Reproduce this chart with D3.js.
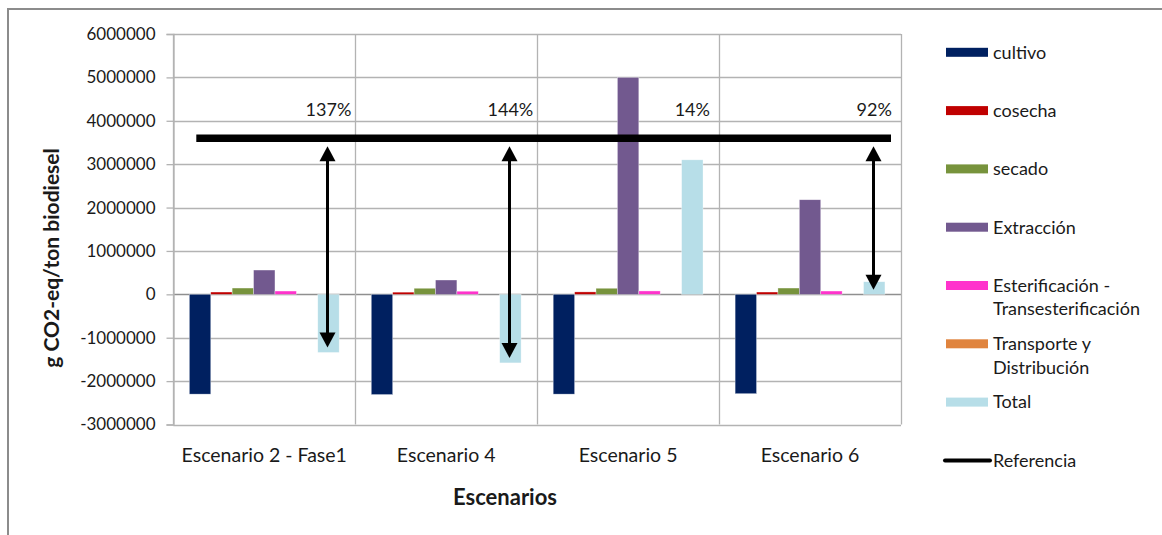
<!DOCTYPE html>
<html>
<head>
<meta charset="utf-8">
<script src="https://cdn.jsdelivr.net/npm/d3@7"></script>
<style>
  html, body { margin: 0; padding: 0; background: #fff; }
  svg { display: block; font-family: Lato, "Open Sans", sans-serif; }
</style>
</head>
<body>
<svg id="chart" width="1162" height="535"></svg>
<script>
// Emisiones por etapa (g CO2-eq / ton biodiesel) para cada escenario
const categories = ["Escenario 2 - Fase1", "Escenario 4", "Escenario 5", "Escenario 6"];
const seriesNames = ["cultivo", "cosecha", "secado", "Extracción",
  "Esterificación - Transesterificación", "Transporte y Distribución", "Total"];
const cultivo        = [-2300000, -2310000, -2300000, -2290000];
const cosecha        = [53000, 50000, 56000, 53000];
const secado         = [145000, 140000, 140000, 145000];
const extraccion     = [560000, 330000, 5000000, 2180000];
const esterificacion = [76000, 72000, 78000, 76000];
const transporte     = [0, 0, 0, 0];
const total          = [-1340000, -1580000, 3100000, 290000];
const referencia     = 3600000;
const arrowShown     = [true, true, false, true];
const yTicks = [-3000000, -2000000, -1000000, 0, 1000000, 2000000, 3000000, 4000000, 5000000, 6000000];
const legendLines = [["cultivo"], ["cosecha"], ["secado"], ["Extracción"],
  ["Esterificación -", "Transesterificación"], ["Transporte y", "Distribución"], ["Total"]];

const seriesValues = [cultivo, cosecha, secado, extraccion, esterificacion, transporte, total];
const colors = ["#002060", "#c00000", "#77933c", "#72598f", "#ff33cc", "#e0843e", "#b7dee8"];

const svg = d3.select("#chart");

// outer frame of the chart object
svg.append("rect").attr("x", 8).attr("y", 9).attr("width", 1170).attr("height", 540)
  .attr("fill", "#fff").attr("stroke", "#8c8c8c").attr("stroke-width", 2);

const plot = { left: 173.3, right: 901, top: 34, bottom: 424.5 };

const x0 = d3.scaleBand().domain(categories).range([plot.left, plot.right]).padding(0);
const x1 = d3.scaleBand().domain(seriesNames).range([0, x0.bandwidth()])
  .paddingInner(0).paddingOuter(0.75);
const y = d3.scaleLinear().domain([-3000000, 6000000]).range([plot.bottom, plot.top]);

// horizontal gridlines
svg.append("g").selectAll("line").data(yTicks).join("line")
  .attr("x1", plot.left).attr("x2", plot.right)
  .attr("y1", d => Math.round(y(d)) + 0.5).attr("y2", d => Math.round(y(d)) + 0.5)
  .attr("stroke", d => d === 0 ? "#8f8f8f" : "#b3b3b3").attr("stroke-width", 1.3);

// vertical gridlines at category boundaries
const bounds = categories.map(c => x0(c)).concat([plot.right]);
svg.append("g").selectAll("line").data(bounds).join("line")
  .attr("x1", d => Math.round(d) + 0.5).attr("x2", d => Math.round(d) + 0.5)
  .attr("y1", plot.top).attr("y2", plot.bottom)
  .attr("stroke", "#b3b3b3").attr("stroke-width", 1.3);

// value axis with outward ticks
const yAxis = d3.axisLeft(y).tickValues(yTicks).tickSize(7).tickPadding(11)
  .tickFormat(d => String(d));
const gy = svg.append("g").attr("transform", `translate(${Math.round(plot.left) + 0.5},0)`).call(yAxis);
gy.select(".domain").attr("stroke", "#b3b3b3").attr("stroke-width", 1.3);
gy.selectAll(".tick line").attr("stroke", "#b3b3b3").attr("stroke-width", 1.3);
gy.selectAll(".tick text").attr("font-family", "Lato, sans-serif").attr("font-size", 17)
  .attr("fill", "#1a1a1a");

// bars
const barData = [];
categories.forEach((c, i) => {
  seriesNames.forEach((s, j) => {
    barData.push({ cat: c, series: s, value: seriesValues[j][i], color: colors[j] });
  });
});
svg.append("g").selectAll("rect").data(barData).join("rect")
  .attr("x", d => x0(d.cat) + x1(d.series))
  .attr("width", x1.bandwidth())
  .attr("y", d => y(Math.max(0, d.value)))
  .attr("height", d => Math.abs(y(d.value) - y(0)))
  .attr("fill", d => d.color)
  .attr("stroke", "rgba(255,255,255,0.55)").attr("stroke-width", 0.6);

// category labels
svg.append("g").selectAll("text").data(categories).join("text")
  .attr("x", d => x0(d) + x0.bandwidth() / 2).attr("y", 462)
  .attr("text-anchor", "middle").attr("font-size", 19.5).attr("fill", "#1a1a1a")
  .text(d => d);

// axis titles
svg.append("text").attr("x", 505).attr("y", 505).attr("text-anchor", "middle")
  .attr("font-size", 22).attr("font-weight", "bold").attr("fill", "#1a1a1a").text("Escenarios");
svg.append("text").attr("transform", "translate(59,258) rotate(-90)").attr("text-anchor", "middle")
  .attr("font-size", 21).attr("font-weight", "bold").attr("fill", "#1a1a1a")
  .text("g CO2-eq/ton biodiesel");

// reference level
const yRef = y(referencia);
svg.append("line")
  .attr("x1", x0(categories[0]) + 23).attr("x2", x0(categories[3]) + x0.bandwidth() - 10)
  .attr("y1", yRef).attr("y2", yRef)
  .attr("stroke", "#000").attr("stroke-width", 7.5);

// reduction relative to the reference, per scenario
const totalX = c => x0(c) + x1("Total") + x1.bandwidth() / 2;
svg.append("g").selectAll("text").data(categories).join("text")
  .attr("x", d => totalX(d)).attr("y", 116)
  .attr("text-anchor", "middle").attr("font-size", 18).attr("fill", "#1a1a1a")
  .text((d, i) => Math.round((referencia - total[i]) / referencia * 100) + "%");

// double-headed arrows from the reference down to the total
const arrows = svg.append("g");
categories.forEach((c, i) => {
  if (!arrowShown[i]) return;
  const ax = Math.round(totalX(c)) - 0.5;
  const yTop = yRef + 8;
  const yBot = total[i] < 0 ? y(total[i]) - 5 : y(total[i]) + 8;
  const hw = 8, hh = 15;
  arrows.append("line").attr("x1", ax).attr("x2", ax)
    .attr("y1", yTop + hh - 2).attr("y2", yBot - hh + 2)
    .attr("stroke", "#000").attr("stroke-width", 3);
  arrows.append("path").attr("d", `M${ax},${yTop} L${ax - hw},${yTop + hh} L${ax + hw},${yTop + hh} Z`).attr("fill", "#000");
  arrows.append("path").attr("d", `M${ax},${yBot} L${ax - hw},${yBot - hh} L${ax + hw},${yBot - hh} Z`).attr("fill", "#000");
});

// legend
const legend = svg.append("g");
const rowY = i => 52.3 + 58.3 * i;
legendLines.forEach((lines, i) => {
  const cy = rowY(i);
  legend.append("rect").attr("x", 946).attr("y", cy - 4.5).attr("width", 42).attr("height", 9)
    .attr("fill", colors[i]);
  lines.forEach((t, k) => {
    legend.append("text").attr("x", 993).attr("y", cy + 23.5 * k).attr("dy", "0.35em")
      .attr("font-size", 18).attr("fill", "#1a1a1a").text(t);
  });
});
const refRow = rowY(legendLines.length);
legend.append("line").attr("x1", 945).attr("x2", 990).attr("y1", refRow).attr("y2", refRow)
  .attr("stroke", "#000").attr("stroke-width", 4).attr("stroke-linecap", "round");
legend.append("text").attr("x", 993).attr("y", refRow).attr("dy", "0.35em")
  .attr("font-size", 18).attr("fill", "#1a1a1a").text("Referencia");
</script>
</body>
</html>
